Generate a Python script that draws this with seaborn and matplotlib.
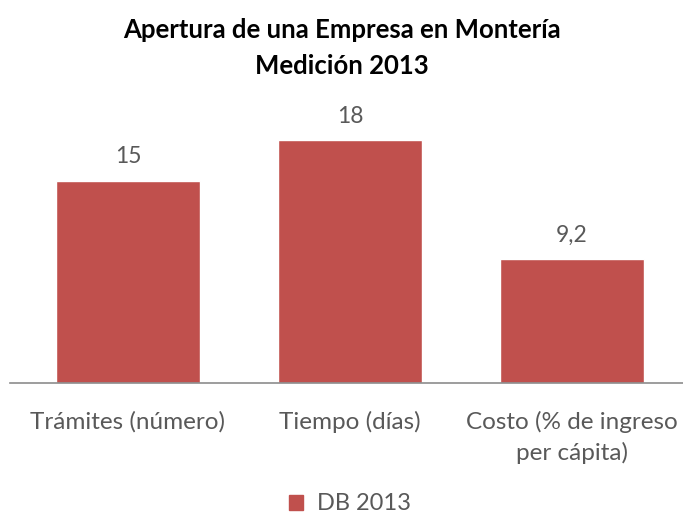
"""Apertura de una Empresa en Montería - medición 2013."""
import pandas as pd
import seaborn as sns
from matplotlib import pyplot as plt
from matplotlib.patches import Patch

categorias = ["Trámites (número)", "Tiempo (días)", "Costo (% de ingreso\nper cápita)"]
valores = [15, 18, 9.2]
etiquetas = ["15", "18", "9,2"]
serie = "DB 2013"

df = pd.DataFrame({"categoria": categorias, "valor": valores})

sns.set_style("white")
plt.rcParams["font.family"] = ["Lato", "DejaVu Sans"]

fig = plt.figure(figsize=(6.83, 5.17), dpi=100)
ax = fig.add_axes([0.015, 1 - 383 / 517, 0.985, 283 / 517])
color = "#C0504D"
sns.barplot(data=df, x="categoria", y="valor", color=color, width=0.65,
            saturation=1, ax=ax)

for p, lab in zip(ax.patches, etiquetas):
    ax.text(p.get_x() + p.get_width() / 2, p.get_height() + 1.0, lab,
            ha="center", va="bottom", fontsize=16.5, color="#595959")

ax.set_xlim(-0.53, 2.50)
ax.set_ylim(0, 21)
ax.set_xlabel("")
ax.set_ylabel("")
ax.set_yticks([])
ax.tick_params(axis="x", length=0, pad=20, labelsize=17.5, labelcolor="#595959")
for t in ax.get_xticklabels():
    t.set_linespacing(1.5)
for s in ["top", "right", "left"]:
    ax.spines[s].set_visible(False)
ax.spines["bottom"].set_color("#8C8C8C")
ax.spines["bottom"].set_linewidth(1.2)

fig.text(0.5, 1 - 48 / 517, "Apertura de una Empresa en Montería\nMedición 2013",
         ha="center", va="center", fontsize=18.5, fontweight="bold",
         linespacing=1.6, color="black")

fig.legend(handles=[Patch(color=color, label=serie)], loc="center",
           bbox_to_anchor=(0.512, 1 - 504 / 517), frameon=False, fontsize=17,
           handlelength=0.6, handleheight=0.6, handletextpad=0.6,
           labelcolor="#595959")

fig.savefig("out.png", dpi=100)
